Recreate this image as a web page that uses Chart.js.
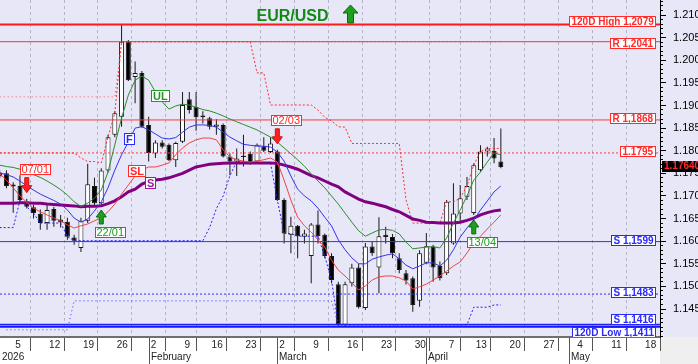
<!DOCTYPE html>
<html><head><meta charset="utf-8">
<script src="https://cdn.jsdelivr.net/npm/chart.js@4.4.1/dist/chart.umd.min.js"></script>
<style>html,body{margin:0;padding:0;background:#fff;overflow:hidden}canvas{display:block}</style>
</head><body>
<canvas id="c" width="698" height="364"></canvas>
<script>
// ---------- DATA (trading-day index: 0 = Mon 5 Jan 2026) ----------
const FIRST_INDEX = -2;
const opens = [1.1752,1.1750,1.1725,1.1722,1.1687,1.1675,1.1660,1.1640,1.1671,1.1648,
1.1643,1.1608,1.1585,1.1645,1.1722,1.1684,1.1756,1.1835,1.1875,1.2041,
1.1963,1.1972,1.1857,1.1794,1.1818,1.1813,1.1779,1.1820,1.1914,1.1897,
1.1878,1.1872,1.1853,1.1857,1.1787,1.1776,1.1789,1.1793,1.1776,1.1810,
1.1797,1.1798,1.1691,1.1614,1.1634,1.1610,1.1567,1.1637,1.1614,1.1567,
1.1505,1.1415,1.1507,1.1542,1.1452,1.1588,1.1542,1.1614,1.1609,1.1562,
1.1529,1.1518,1.1468,1.1552,1.1588,1.1545,1.1529,1.1595,1.1661,1.1698,
1.1662,1.1757,1.1798,1.1800,1.1776];
const highs = [1.1758,1.1757,1.1730,1.1746,1.1694,1.1680,1.1670,1.1680,1.1676,1.1658,
1.1652,1.1614,1.1652,1.1771,1.1740,1.1761,1.1835,1.1887,1.2079,1.2045,
1.1997,1.1976,1.1875,1.1823,1.1823,1.1816,1.1820,1.1930,1.1930,1.1930,
1.1887,1.1875,1.1870,1.1860,1.1794,1.1805,1.1835,1.1798,1.1816,1.1830,
1.1830,1.1802,1.1695,1.1654,1.1636,1.1625,1.1640,1.1668,1.1617,1.1573,
1.1510,1.1510,1.1550,1.1550,1.1596,1.1600,1.1653,1.1632,1.1616,1.1573,
1.1536,1.1522,1.1580,1.1618,1.1592,1.1555,1.1691,1.1728,1.1724,1.1742,
1.1772,1.1812,1.1809,1.1828,1.1849];
const lows = [1.1738,1.1717,1.1663,1.1687,1.1672,1.1650,1.1625,1.1625,1.1632,1.1630,
1.1603,1.1592,1.1576,1.1640,1.1680,1.1680,1.1752,1.1830,1.1853,1.1954,
1.1905,1.1851,1.1776,1.1784,1.1805,1.1777,1.1764,1.1817,1.1882,1.1844,
1.1860,1.1847,1.1835,1.1785,1.1746,1.1744,1.1765,1.1769,1.1772,1.1797,
1.1795,1.1689,1.1595,1.1573,1.1562,1.1595,1.1507,1.1595,1.1562,1.1507,
1.1411,1.1411,1.1500,1.1451,1.1448,1.1568,1.1485,1.1595,1.1562,1.1529,
1.1504,1.1444,1.1455,1.1549,1.1510,1.1513,1.1525,1.1592,1.1640,1.1691,
1.1658,1.1754,1.1787,1.1772,1.1761];
const closes = [1.1743,1.1722,1.1721,1.1691,1.1676,1.1662,1.1640,1.1669,1.1645,1.1641,
1.1610,1.1601,1.1645,1.1726,1.1684,1.1756,1.1830,1.1883,1.2041,1.1956,
1.1972,1.1853,1.1795,1.1818,1.1809,1.1779,1.1817,1.1901,1.1890,1.1874,
1.1874,1.1853,1.1858,1.1787,1.1776,1.1783,1.1786,1.1772,1.1813,1.1800,
1.1816,1.1691,1.1617,1.1634,1.1611,1.1617,1.1637,1.1611,1.1567,1.1514,
1.1415,1.1505,1.1542,1.1454,1.1588,1.1573,1.1611,1.1609,1.1573,1.1536,
1.1513,1.1459,1.1573,1.1589,1.1542,1.1518,1.1687,1.1661,1.1695,1.1722,
1.1768,1.1798,1.1805,1.1783,1.1764];

const maFast = [1.1751,1.1747,1.1742,1.1733,1.1722,1.1713,1.1704,1.1697,1.1690,1.1682,
1.1669,1.1651,1.1642,1.1649,1.1667,1.1687,1.1718,1.1757,1.1791,1.1819,
1.1850,1.1853,1.1846,1.1837,1.1828,1.1826,1.1829,1.1841,1.1852,1.1857,
1.1857,1.1856,1.1852,1.1841,1.1830,1.1822,1.1814,1.1812,1.1810,1.1810,
1.1808,1.1797,1.1777,1.1744,1.1715,1.1700,1.1689,1.1673,1.1653,1.1634,
1.1603,1.1581,1.1563,1.1550,1.1550,1.1560,1.1565,1.1569,1.1572,1.1561,
1.1547,1.1539,1.1545,1.1552,1.1552,1.1545,1.1558,1.1581,1.1609,1.1629,
1.1647,1.1669,1.1689,1.1709,1.1722];
const maUpper = [1.1768,1.1765,1.1763,1.1759,1.1753,1.1747,1.1741,1.1733,1.1724,1.1714,
1.1702,1.1687,1.1677,1.1684,1.1695,1.1713,1.1753,1.1813,1.1872,1.1923,
1.1956,1.1965,1.1956,1.1930,1.1908,1.1892,1.1899,1.1903,1.1901,1.1896,
1.1891,1.1888,1.1883,1.1877,1.1870,1.1864,1.1858,1.1852,1.1846,1.1838,
1.1830,1.1819,1.1806,1.1793,1.1780,1.1766,1.1749,1.1733,1.1718,1.1700,
1.1682,1.1662,1.1642,1.1623,1.1611,1.1618,1.1625,1.1626,1.1624,1.1616,
1.1598,1.1583,1.1585,1.1587,1.1588,1.1585,1.1607,1.1640,1.1669,1.1700,
1.1735,1.1753,1.1775,1.1795,1.1791];
const maStop = [1.1749,1.1735,1.1718,1.1700,1.1686,1.1673,1.1665,1.1658,1.1651,1.1645,
1.1636,1.1629,1.1634,1.1638,1.1645,1.1651,1.1665,1.1682,1.1704,1.1724,
1.1744,1.1757,1.1764,1.1764,1.1768,1.1773,1.1791,1.1806,1.1817,1.1824,
1.1828,1.1828,1.1824,1.1802,1.1786,1.1780,1.1777,1.1775,1.1777,1.1780,
1.1784,1.1775,1.1735,1.1691,1.1653,1.1634,1.1620,1.1603,1.1587,1.1558,
1.1536,1.1523,1.1508,1.1492,1.1501,1.1514,1.1521,1.1523,1.1523,1.1519,
1.1512,1.1494,1.1499,1.1505,1.1514,1.1523,1.1534,1.1545,1.1554,1.1574,
1.1596,1.1611,1.1627,1.1642,1.1658];
const maSlow = [1.1684,1.1684,1.1684,1.1685,1.1685,1.1684,1.1684,1.1682,1.1681,1.1680,
1.1679,1.1678,1.1676,1.1677,1.1677,1.1678,1.1683,1.1689,1.1698,1.1709,
1.1715,1.1726,1.1732,1.1735,1.1737,1.1740,1.1745,1.1750,1.1757,1.1764,
1.1767,1.1770,1.1771,1.1772,1.1773,1.1773,1.1773,1.1773,1.1773,1.1773,
1.1773,1.1772,1.1768,1.1764,1.1759,1.1752,1.1745,1.1740,1.1733,1.1726,
1.1720,1.1709,1.1701,1.1693,1.1687,1.1684,1.1680,1.1676,1.1670,1.1665,
1.1657,1.1649,1.1646,1.1642,1.1641,1.1640,1.1640,1.1640,1.1642,1.1646,
1.1651,1.1658,1.1663,1.1667,1.1669];

const channelHigh = [1.1795,1.1795,1.1795,1.1795,1.1795,1.1795,1.1795,1.1795,1.1795,1.1795,
1.1795,1.1795,1.1784,1.1776,1.1776,1.1773,1.1830,1.1883,1.2041,1.2041,
1.2041,1.2041,1.2041,1.2041,1.2041,1.2041,1.2041,1.2041,1.2041,1.2041,
1.2041,1.2041,1.2041,1.2041,1.2041,1.2041,1.2041,1.2041,1.1972,1.1972,
1.1901,1.1901,1.1901,1.1901,1.1901,1.1901,1.1901,1.1890,1.1874,1.1866,
1.1853,1.1852,1.1816,1.1816,1.1816,1.1816,1.1816,1.1816,1.1816,1.1816,
1.1691,1.1640,1.1640,1.1640,1.1640,1.1640,1.1687,1.1687,1.1695,1.1722,
1.1768,1.1798,1.1805,1.1805,1.1805];
const channelLow = [1.1630,1.1630,1.1630,1.1690,1.1676,1.1662,1.1640,1.1640,1.1640,1.1640,
1.1610,1.1601,1.1601,1.1601,1.1601,1.1601,1.1601,1.1601,1.1601,1.1601,
1.1601,1.1601,1.1601,1.1601,1.1601,1.1601,1.1601,1.1601,1.1601,1.1601,
1.1601,1.1630,1.1672,1.1700,1.1745,1.1776,1.1776,1.1772,1.1772,1.1772,
1.1772,1.1691,1.1617,1.1617,1.1611,1.1611,1.1611,1.1611,1.1567,1.1514,
1.1415,1.1415,1.1415,1.1415,1.1415,1.1415,1.1415,1.1415,1.1415,1.1415,
1.1415,1.1415,1.1415,1.1415,1.1415,1.1415,1.1415,1.1415,1.1415,1.1415,
1.1454,1.1454,1.1454,1.1459,1.1459];
const channelHighLong = [1.1919,1.1919,1.1919,1.1919,1.1919,1.1919,1.1919,1.1919,1.1919,1.1919,
1.1919,1.1919,1.1919,1.1919,1.1919,1.1919,1.1919,1.1919,1.2041,1.2041,
1.2041,1.2041,1.2041,1.2041,1.2041,1.2041,1.2041,1.2041,1.2041,1.2041,
1.2041,1.2041,1.2041,1.2041,1.2041,1.2041,1.2041,1.2041,1.2041,1.2041,
1.2041,1.2041,1.2041,1.2041,1.2041,1.2041,1.2041,1.2041,1.2041,1.2041,
1.2041,1.2041,1.2041,1.2041,1.2041,1.2041,1.2041,1.2041,1.2041,1.2041,
1.2041,1.2041,1.2041,1.2041,1.2041,1.2041,1.2041,1.2041,1.2041,1.2041,
1.2041,1.2041,1.2041,1.2041,1.2041];
const channelLowLong = [null,1.1404,1.1404,1.1404,1.1404,1.1404,1.1404,1.1404,1.1404,1.1404,
1.1404,1.1468,1.1468,1.1468,1.1468,1.1468,1.1468,1.1468,1.1468,1.1468,
1.1468,1.1468,1.1468,1.1468,1.1468,1.1468,1.1468,1.1468,1.1468,1.1468,
1.1468,1.1468,1.1468,1.1468,1.1468,1.1468,1.1468,1.1468,1.1468,1.1468,
1.1468,1.1468,1.1468,1.1468,1.1468,1.1468,1.1468,1.1468,1.1468,1.1468,
1.1415,1.1415,1.1415,1.1415,1.1415,1.1415,1.1415,1.1415,1.1415,1.1415,
1.1415,1.1415,1.1415,1.1415,1.1415,1.1415,1.1415,1.1415,1.1415,1.1415,
1.1415,1.1415,1.1415,1.1415,1.1415];

const levelValues = [1.2079, 1.2041, 1.1868, 1.1795, 1.1599, 1.1483, 1.1416, 1.1411];
const levelTexts = ['120D High 1,2079','R 1,2041','R 1,1868','1.1795','S 1,1599','S 1,1483','S 1,1416','120D Low 1,1411'];

const weekTickIdx = [0,5,10,15,20,25,29,34,39,44,49,54,59,64,68,73,78,83,88,93];
const weekTickLabels = ['5','12','19','26','2','9','16','23','2','9','16','23','30','7','13','20','27','4','11','18'];
const monthStartIdx = [20, 39, 61, 82];
const monthLabels = ['February','March','April','May'];
const yearLabel = '2026';
const yTickValues = [1.145,1.150,1.155,1.160,1.165,1.170,1.175,1.180,1.185,1.190,1.195,1.200,1.205,1.210];

const signalIdx = [2, 13, 39, 68];
const signalDir = [-1, 1, -1, 1];
const signalText = ['07/01','22/01','02/03','13/04'];

const titleText = 'EUR/USD';

// ---------- STYLE / LAYOUT ----------
const X_MIN = -1.95, X_MAX = 95.5;
const Y_MIN = 1.13881, Y_MAX = 1.21332;
const FONT = '"Liberation Sans", Arial, sans-serif';
const BG = '#E7E7F8';
const RED = '#ff2a2a', BLUE = '#2a2aff', GREEN = '#1f9a1f', PURPLE = '#9a1a9a';
const levelColors = ['#ff1a1a','#ff3030','#ff3a3a','#ff3a3a','#3030ff','#2a2aff','#2020ff','#1818ff'];
const levelWidths = [2.2, 1, 1, 1, 1, 1, 1.2, 2.4];
const levelDash = [[],[],[],[2,2],[],[2,2],[],[]];
const levelLabelDy = [-3.5, 1.5, -1, -1, -1, -1.5, -5, 6];

const idx = opens.map((_, k) => FIRST_INDEX + k);
const xy = arr => arr.map((v, k) => ({x: idx[k], y: v}));

const lineDs = (arr, color, width, dash, order) => ({
  type: 'line', data: xy(arr), borderColor: color, borderWidth: width, borderDash: dash,
  pointRadius: 0, tension: 0, fill: false, order: order, xAxisID: 'x', yAxisID: 'y', spanGaps: false
});

const datasets = [
  { type: 'bar', data: idx.map((x, k) => ({x: x, y: [lows[k], highs[k]]})),
    backgroundColor: '#1a1a1a', borderWidth: 0, barThickness: 1, grouped: false,
    inflateAmount: 0, order: 30, xAxisID: 'x', yAxisID: 'y' },
  { type: 'bar', data: idx.map((x, k) => ({x: x, y: [opens[k], closes[k]]})),
    backgroundColor: c => closes[c.dataIndex] >= opens[c.dataIndex] ? '#ffffff' : '#000000',
    borderColor: '#1a1a1a', borderWidth: 1, borderSkipped: false, barThickness: 5, grouped: false,
    inflateAmount: 0, order: 29, xAxisID: 'x', yAxisID: 'y' },
  lineDs(channelHighLong, '#ff5050', 1, [1,3], 25),
  lineDs(channelLowLong, '#3030ff', 1, [1,3], 25),
  ...levelValues.map((v, k) => ({
    type: 'line', data: [{x: X_MIN, y: v}, {x: X_MAX, y: v}], borderColor: levelColors[k],
    borderWidth: levelWidths[k], borderDash: levelDash[k], pointRadius: 0, order: 24,
    xAxisID: 'x', yAxisID: 'y'
  })),
  lineDs(channelHigh, '#ff3030', 1, [2,2], 23),
  lineDs(channelLow, '#2020ff', 1, [2,2], 23),
  lineDs(maSlow, '#800080', 3, [], 22),
  lineDs(maUpper, '#2e8b2e', 1, [], 21),
  lineDs(maFast, '#3333ee', 1, [], 20),
  lineDs(maStop, '#f04444', 1, [], 19)
];

function drawBox(ctx, x0, cy, text, font, color, fill, padX, h) {
  ctx.font = font;
  const w = Math.round(ctx.measureText(text).width + padX * 2);
  const y0 = Math.round(cy - h / 2);
  x0 = Math.round(x0);
  ctx.fillStyle = fill; ctx.fillRect(x0, y0, w, h);
  ctx.strokeStyle = color; ctx.lineWidth = 1; ctx.strokeRect(x0 + 0.5, y0 + 0.5, w - 1, h - 1);
  ctx.fillStyle = color; ctx.textAlign = 'left'; ctx.textBaseline = 'middle';
  ctx.fillText(text, x0 + padX, y0 + h / 2 + 0.5);
  return w;
}
function boxWidth(ctx, text, font, padX) { ctx.font = font; return Math.round(ctx.measureText(text).width + padX * 2); }

function arrow(ctx, cx, tipY, dir, w, h, shaftW, headH, fill, edge) {
  const baseY = tipY + dir * h, hb = tipY + dir * headH;
  ctx.beginPath();
  ctx.moveTo(cx, tipY);
  ctx.lineTo(cx + w / 2, hb); ctx.lineTo(cx + shaftW / 2, hb);
  ctx.lineTo(cx + shaftW / 2, baseY); ctx.lineTo(cx - shaftW / 2, baseY);
  ctx.lineTo(cx - shaftW / 2, hb); ctx.lineTo(cx - w / 2, hb);
  ctx.closePath();
  ctx.fillStyle = fill; ctx.fill();
  ctx.strokeStyle = edge; ctx.lineWidth = 1; ctx.stroke();
}

const zeroPad = s => { s.paddingTop = 0; s.paddingBottom = 0; s.paddingLeft = 0; s.paddingRight = 0; };

const bgPlugin = {
  id: 'bg',
  beforeDraw(chart) {
    const {ctx, chartArea: a, width, height} = chart;
    ctx.save();
    ctx.fillStyle = BG; ctx.fillRect(0, 0, width, a.bottom);
    ctx.fillStyle = '#ffffff'; ctx.fillRect(0, a.bottom, a.right, height - a.bottom);
    ctx.fillStyle = '#efefef'; ctx.fillRect(a.right, a.bottom, width - a.right, height - a.bottom);
    ctx.restore();
  }
};

const annPlugin = {
  id: 'ann',
  afterDatasetsDraw(chart) {
    const {ctx, chartArea: a} = chart;
    const xs = chart.scales.x, ys = chart.scales.y;
    const P = i => xs.getPixelForValue(i), Y = v => ys.getPixelForValue(v);
    ctx.save();
    ctx.beginPath(); ctx.rect(a.left, a.top, a.right - a.left, a.bottom - a.top); ctx.clip();

    // right-hand level labels
    const lf = 'bold 10px ' + FONT;
    levelValues.forEach((v, k) => {
      const col = k < 4 ? RED : BLUE;
      const w = boxWidth(ctx, levelTexts[k], lf, 2.5);
      drawBox(ctx, a.right - 4 - w, Y(v) + levelLabelDy[k], levelTexts[k], lf, col, '#fff', 2.5, 11);
    });

    // series labels
    const sf = 'bold 11px ' + FONT;
    const seriesLabels = [
      {t: 'UL', arr: maUpper, i: 22, dx: -1.4, dy: -6, col: GREEN},
      {t: 'F', arr: maFast, i: 17, dx: 1.4, dy: -3.5, col: BLUE},
      {t: 'SL', arr: maStop, i: 18, dx: 1.6, dy: -5, col: RED},
      {t: 'S', arr: maSlow, i: 20, dx: 2, dy: 2, col: PURPLE}
    ];
    seriesLabels.forEach(s => {
      const k = s.i - FIRST_INDEX;
      const w = boxWidth(ctx, s.t, sf, 2);
      drawBox(ctx, P(s.i) + s.dx - w / 2, Y(s.arr[k]) + s.dy, s.t, sf, s.col, '#fff', 2, 12);
    });

    // signals
    const gf = '11px ' + FONT;
    signalIdx.forEach((i, n) => {
      const k = i - FIRST_INDEX, cx = P(i), dir = signalDir[n];
      const w = boxWidth(ctx, signalText[n], gf, 1.5);
      if (dir < 0) {
        const tip = Y(highs[k]) - 6;
        arrow(ctx, cx, tip, -1, 10, 15, 4, 7, '#ff2020', '#d01010');
        drawBox(ctx, cx + 9 - w / 2, tip - 23, signalText[n], gf, RED, '#fff', 1.5, 11);
      } else {
        const tip = Y(lows[k]) + 5;
        arrow(ctx, cx, tip, 1, 10, 14, 4, 7, '#1ea01e', '#0c6a0c');
        drawBox(ctx, cx + 9 - w / 2, tip + 23, signalText[n], gf, GREEN, '#fff', 1.5, 11);
      }
    });

    // title
    ctx.font = 'bold 16px ' + FONT;
    ctx.fillStyle = '#138a13'; ctx.textAlign = 'center'; ctx.textBaseline = 'middle';
    ctx.fillText(titleText, 292.5, 16.5);
    arrow(ctx, 350.5, 5, 1, 15, 18, 6, 8, '#1ea01e', '#0c6a0c');
    ctx.restore();
  },
  afterDraw(chart) {
    const {ctx, chartArea: a, width, height} = chart;
    const xs = chart.scales.x, ys = chart.scales.y;
    ctx.save();
    // month row
    ctx.font = '10px ' + FONT; ctx.fillStyle = '#222'; ctx.textAlign = 'left'; ctx.textBaseline = 'middle';
    ctx.fillText(yearLabel, a.left + 2, 357.5);
    ctx.strokeStyle = '#555'; ctx.lineWidth = 1;
    monthStartIdx.forEach((i, n) => {
      const x = Math.round(xs.getPixelForValue(i)) + 0.5;
      ctx.beginPath(); ctx.moveTo(x, a.bottom + 1); ctx.lineTo(x, height); ctx.stroke();
      ctx.fillText(monthLabels[n], x + 1.5, 357.5);
    });
    // last price tag
    const last = closes[closes.length - 1];
    const yl = Math.round(ys.getPixelForValue(last) - 1);
    ctx.fillStyle = '#000'; ctx.fillRect(a.right + 2, yl - 5, width - a.right - 2, 11);
    ctx.font = 'bold 10px ' + FONT; ctx.fillStyle = '#ff2a2a'; ctx.textBaseline = 'middle';
    ctx.fillText(last.toFixed(5), a.right + 4, yl + 0.5);
    ctx.restore();
  }
};

new Chart(document.getElementById('c'), {
  type: 'bar',
  data: { datasets },
  plugins: [bgPlugin, annPlugin],
  options: {
    responsive: false, animation: false, events: [],
    layout: { padding: 0, autoPadding: false },
    plugins: { legend: { display: false }, tooltip: { enabled: false }, title: { display: false } },
    scales: {
      x: {
        type: 'linear', position: 'bottom', min: X_MIN, max: X_MAX, offset: false,
        afterBuildTicks: s => { s.ticks = weekTickIdx.map(v => ({value: v})); },
        afterFit: s => { s.height = 27; zeroPad(s); },
        ticks: { autoSkip: false, maxRotation: 0, align: 'start', labelOffset: 2, padding: -12,
          color: '#222', font: { family: FONT, size: 10 },
          callback: (v, i) => weekTickLabels[i] },
        grid: { color: '#b4b4c4', lineWidth: 1, drawTicks: true, tickLength: 14, tickColor: '#555',
          tickBorderDash: [], drawOnChartArea: true },
        border: { display: true, color: '#707070', width: 2, dash: [3, 3] }
      },
      y2: {
        type: 'linear', position: 'right', weight: 0, min: Y_MIN, max: Y_MAX,
        afterBuildTicks: s => {
          const t = [];
          for (let v = 1139; v <= 1213; v++) t.push({value: v / 1000});
          s.ticks = t;
        },
        afterFit: s => { s.width = 0; zeroPad(s); },
        ticks: { display: false, autoSkip: false },
        grid: { drawOnChartArea: false, drawTicks: true, tickLength: 3, tickColor: '#000' },
        border: { display: false }
      },
      y: {
        type: 'linear', position: 'right', weight: 1, min: Y_MIN, max: Y_MAX,
        afterBuildTicks: s => { s.ticks = yTickValues.map(v => ({value: v})); },
        afterFit: s => { s.width = 38; zeroPad(s); },
        ticks: { autoSkip: false, padding: 7, color: '#000', font: { family: FONT, size: 11 },
          callback: v => Number(v).toFixed(3) },
        grid: { drawOnChartArea: false, drawTicks: true, tickLength: 6, tickColor: '#000' },
        border: { display: true, color: '#000', width: 1 }
      }
    }
  }
});
</script>
</body></html>
